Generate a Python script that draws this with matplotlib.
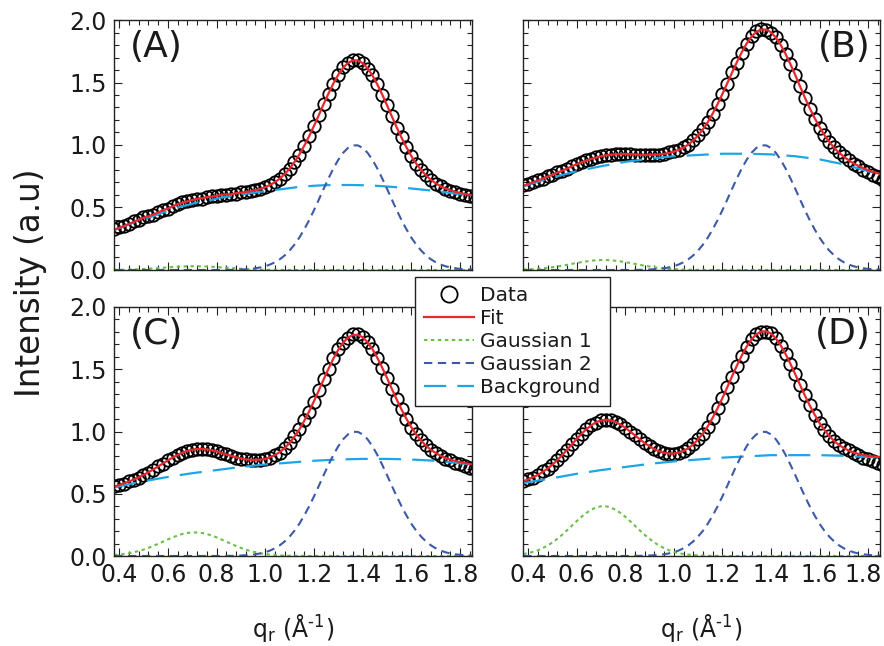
import numpy as np
import matplotlib
matplotlib.use("Agg")
import matplotlib.pyplot as plt
from matplotlib.ticker import MultipleLocator, FormatStrFormatter
from matplotlib.transforms import ScaledTranslation

plt.rcParams['font.family'] = ['DejaVu Sans']
plt.rcParams['mathtext.fontset'] = 'dejavusans'
plt.rcParams['mathtext.default'] = 'regular'
plt.rcParams['lines.scale_dashes'] = False

# q_r values (1/Angstrom), shared by every panel
q = [0.38, 0.40, 0.42, 0.44, 0.46, 0.48, 0.50, 0.52, 0.54, 0.56,
     0.58, 0.60, 0.62, 0.64, 0.66, 0.68, 0.70, 0.72, 0.74, 0.76,
     0.78, 0.80, 0.82, 0.84, 0.86, 0.88, 0.90, 0.92, 0.94, 0.96,
     0.98, 1.00, 1.02, 1.04, 1.06, 1.08, 1.10, 1.12, 1.14, 1.16,
     1.18, 1.20, 1.22, 1.24, 1.26, 1.28, 1.30, 1.32, 1.34, 1.36,
     1.38, 1.40, 1.42, 1.44, 1.46, 1.48, 1.50, 1.52, 1.54, 1.56,
     1.58, 1.60, 1.62, 1.64, 1.66, 1.68, 1.70, 1.72, 1.74, 1.76,
     1.78, 1.80, 1.82, 1.84, 1.86]

# Gaussian 2 looks the same (normalised to 1) in all four panels
gauss2 = [0, 0, 0, 0, 0, 0, 0, 0, 0, 0,
          0, 0, 0, 0, 0, 0, 0, 0, 0, 0,
          0.000, 0.000, 0.000, 0.001, 0.001, 0.002, 0.004, 0.006, 0.009, 0.014,
          0.021, 0.030, 0.044, 0.062, 0.086, 0.117, 0.156, 0.203, 0.259, 0.325,
          0.398, 0.478, 0.563, 0.650, 0.734, 0.813, 0.882, 0.938, 0.977, 0.997,
          0.997, 0.977, 0.938, 0.882, 0.813, 0.734, 0.650, 0.563, 0.478, 0.398,
          0.325, 0.259, 0.203, 0.156, 0.117, 0.086, 0.062, 0.044, 0.030, 0.021,
          0.014, 0.009, 0.006, 0.004, 0.002]

# (A)
data_a = [0.33, 0.34, 0.35, 0.37, 0.39, 0.40, 0.42, 0.43, 0.44, 0.46,
          0.48, 0.49, 0.51, 0.53, 0.54, 0.55, 0.56, 0.57, 0.57, 0.58,
          0.59, 0.59, 0.60, 0.60, 0.61, 0.61, 0.62, 0.62, 0.63, 0.64,
          0.65, 0.66, 0.68, 0.70, 0.73, 0.77, 0.81, 0.86, 0.92, 0.99,
          1.07, 1.15, 1.24, 1.33, 1.41, 1.49, 1.56, 1.62, 1.66, 1.68,
          1.68, 1.66, 1.61, 1.56, 1.49, 1.40, 1.32, 1.23, 1.14, 1.06,
          0.98, 0.91, 0.85, 0.80, 0.76, 0.72, 0.69, 0.67, 0.65, 0.63,
          0.62, 0.61, 0.60, 0.59, 0.58]
gauss1_a = [0.001, 0.002, 0.002, 0.003, 0.005, 0.006, 0.008, 0.010, 0.013, 0.015,
            0.018, 0.021, 0.024, 0.026, 0.028, 0.029, 0.030, 0.030, 0.029, 0.028,
            0.026, 0.024, 0.021, 0.018, 0.015, 0.013, 0.010, 0.008, 0.006, 0.005,
            0.003, 0.002, 0.002, 0.001, 0.001, 0, 0, 0, 0, 0,
            0, 0, 0, 0, 0, 0, 0, 0, 0, 0,
            0, 0, 0, 0, 0, 0, 0, 0, 0, 0,
            0, 0, 0, 0, 0, 0, 0, 0, 0, 0,
            0, 0, 0, 0, 0]
backg_a = [0.320, 0.335, 0.350, 0.365, 0.380, 0.395, 0.410, 0.420, 0.430, 0.445,
           0.460, 0.470, 0.485, 0.500, 0.510, 0.520, 0.530, 0.540, 0.545, 0.555,
           0.560, 0.570, 0.580, 0.585, 0.590, 0.600, 0.605, 0.610, 0.615, 0.620,
           0.625, 0.630, 0.635, 0.640, 0.645, 0.650, 0.655, 0.660, 0.665, 0.668,
           0.671, 0.674, 0.676, 0.678, 0.679, 0.680, 0.680, 0.680, 0.680, 0.680,
           0.679, 0.678, 0.677, 0.675, 0.673, 0.671, 0.668, 0.665, 0.662, 0.659,
           0.656, 0.652, 0.648, 0.644, 0.640, 0.636, 0.632, 0.627, 0.622, 0.617,
           0.612, 0.607, 0.602, 0.597, 0.592]

# (B)
data_b = [0.68, 0.69, 0.70, 0.72, 0.73, 0.75, 0.76, 0.78, 0.79, 0.81,
          0.83, 0.85, 0.86, 0.88, 0.89, 0.90, 0.91, 0.92, 0.92, 0.93,
          0.93, 0.93, 0.93, 0.92, 0.92, 0.92, 0.92, 0.92, 0.92, 0.93,
          0.94, 0.95, 0.96, 0.98, 1.00, 1.04, 1.08, 1.13, 1.18, 1.25,
          1.33, 1.41, 1.49, 1.58, 1.66, 1.74, 1.81, 1.87, 1.91, 1.93,
          1.92, 1.90, 1.86, 1.80, 1.73, 1.65, 1.56, 1.47, 1.38, 1.29,
          1.21, 1.14, 1.08, 1.02, 0.98, 0.94, 0.91, 0.88, 0.85, 0.83,
          0.80, 0.78, 0.76, 0.74, 0.72]
gauss1_b = [0.003, 0.005, 0.007, 0.009, 0.013, 0.017, 0.022, 0.028, 0.034, 0.041,
            0.049, 0.056, 0.063, 0.069, 0.074, 0.078, 0.080, 0.080, 0.078, 0.074,
            0.069, 0.063, 0.056, 0.049, 0.041, 0.034, 0.028, 0.022, 0.017, 0.013,
            0.009, 0.007, 0.005, 0.003, 0.002, 0.001, 0.001, 0.001, 0, 0,
            0, 0, 0, 0, 0, 0, 0, 0, 0, 0,
            0, 0, 0, 0, 0, 0, 0, 0, 0, 0,
            0, 0, 0, 0, 0, 0, 0, 0, 0, 0,
            0, 0, 0, 0, 0]
backg_b = [0.670, 0.682, 0.694, 0.706, 0.718, 0.729, 0.740, 0.750, 0.760, 0.770,
           0.780, 0.790, 0.798, 0.806, 0.814, 0.822, 0.830, 0.837, 0.844, 0.851,
           0.858, 0.865, 0.870, 0.875, 0.880, 0.885, 0.890, 0.894, 0.898, 0.902,
           0.906, 0.910, 0.912, 0.914, 0.916, 0.918, 0.920, 0.922, 0.924, 0.926,
           0.928, 0.930, 0.930, 0.930, 0.930, 0.930, 0.930, 0.929, 0.928, 0.927,
           0.926, 0.925, 0.922, 0.919, 0.916, 0.913, 0.910, 0.905, 0.900, 0.895,
           0.890, 0.885, 0.877, 0.869, 0.861, 0.853, 0.845, 0.834, 0.823, 0.812,
           0.801, 0.790, 0.780, 0.770, 0.760]

# (C)
data_c = [0.56, 0.57, 0.58, 0.60, 0.61, 0.63, 0.65, 0.67, 0.69, 0.72,
          0.74, 0.77, 0.79, 0.81, 0.83, 0.84, 0.85, 0.86, 0.86, 0.86,
          0.85, 0.84, 0.83, 0.82, 0.80, 0.79, 0.78, 0.78, 0.77, 0.77,
          0.77, 0.78, 0.79, 0.81, 0.83, 0.87, 0.91, 0.96, 1.02, 1.09,
          1.16, 1.24, 1.33, 1.42, 1.50, 1.59, 1.66, 1.71, 1.75, 1.78,
          1.78, 1.76, 1.72, 1.66, 1.59, 1.51, 1.43, 1.34, 1.26, 1.18,
          1.10, 1.03, 0.98, 0.93, 0.89, 0.85, 0.83, 0.80, 0.78, 0.77,
          0.75, 0.74, 0.72, 0.71, 0.70]
gauss1_c = [0.008, 0.011, 0.016, 0.022, 0.030, 0.040, 0.051, 0.065, 0.081, 0.098,
            0.115, 0.133, 0.150, 0.164, 0.177, 0.185, 0.189, 0.189, 0.185, 0.177,
            0.164, 0.150, 0.133, 0.115, 0.098, 0.081, 0.065, 0.051, 0.040, 0.030,
            0.022, 0.016, 0.011, 0.008, 0.005, 0.003, 0.002, 0.002, 0.001, 0.001,
            0, 0, 0, 0, 0, 0, 0, 0, 0, 0,
            0, 0, 0, 0, 0, 0, 0, 0, 0, 0,
            0, 0, 0, 0, 0, 0, 0, 0, 0, 0,
            0, 0, 0, 0, 0]
backg_c = [0.550, 0.559, 0.568, 0.576, 0.584, 0.592, 0.600, 0.607, 0.614, 0.621,
           0.628, 0.635, 0.641, 0.647, 0.653, 0.659, 0.665, 0.670, 0.675, 0.680,
           0.685, 0.690, 0.695, 0.700, 0.705, 0.710, 0.715, 0.719, 0.723, 0.727,
           0.731, 0.735, 0.738, 0.741, 0.744, 0.747, 0.750, 0.753, 0.756, 0.759,
           0.762, 0.765, 0.767, 0.769, 0.771, 0.773, 0.775, 0.776, 0.777, 0.778,
           0.779, 0.780, 0.780, 0.780, 0.780, 0.780, 0.780, 0.779, 0.778, 0.777,
           0.776, 0.775, 0.773, 0.771, 0.769, 0.767, 0.765, 0.761, 0.757, 0.753,
           0.749, 0.745, 0.740, 0.735, 0.730]

# (D)
data_d = [0.60, 0.62, 0.63, 0.65, 0.68, 0.70, 0.73, 0.77, 0.81, 0.85,
          0.90, 0.94, 0.98, 1.02, 1.05, 1.07, 1.09, 1.09, 1.09, 1.08,
          1.06, 1.03, 1.00, 0.97, 0.94, 0.91, 0.88, 0.86, 0.84, 0.83,
          0.82, 0.82, 0.83, 0.84, 0.87, 0.90, 0.94, 0.98, 1.04, 1.11,
          1.19, 1.27, 1.36, 1.44, 1.53, 1.61, 1.68, 1.74, 1.78, 1.80,
          1.80, 1.79, 1.75, 1.69, 1.62, 1.54, 1.46, 1.37, 1.29, 1.21,
          1.13, 1.07, 1.01, 0.96, 0.92, 0.89, 0.87, 0.85, 0.83, 0.81,
          0.79, 0.78, 0.76, 0.75, 0.73]
gauss1_d = [0.016, 0.023, 0.033, 0.046, 0.063, 0.084, 0.108, 0.138, 0.170, 0.206,
            0.243, 0.280, 0.315, 0.346, 0.372, 0.390, 0.399, 0.399, 0.390, 0.372,
            0.346, 0.315, 0.280, 0.243, 0.206, 0.170, 0.138, 0.108, 0.084, 0.063,
            0.046, 0.033, 0.023, 0.016, 0.011, 0.007, 0.005, 0.003, 0.002, 0.001,
            0.001, 0, 0, 0, 0, 0, 0, 0, 0, 0,
            0, 0, 0, 0, 0, 0, 0, 0, 0, 0,
            0, 0, 0, 0, 0, 0, 0, 0, 0, 0,
            0, 0, 0, 0, 0]
backg_d = [0.585, 0.592, 0.599, 0.605, 0.612, 0.618, 0.625, 0.632, 0.639, 0.646,
           0.653, 0.660, 0.666, 0.672, 0.678, 0.684, 0.690, 0.695, 0.700, 0.705,
           0.710, 0.715, 0.720, 0.725, 0.730, 0.735, 0.740, 0.744, 0.748, 0.752,
           0.756, 0.760, 0.763, 0.766, 0.769, 0.772, 0.775, 0.778, 0.781, 0.784,
           0.787, 0.790, 0.792, 0.794, 0.796, 0.798, 0.800, 0.802, 0.804, 0.806,
           0.808, 0.810, 0.810, 0.810, 0.810, 0.810, 0.810, 0.810, 0.810, 0.810,
           0.810, 0.810, 0.809, 0.808, 0.807, 0.806, 0.805, 0.803, 0.801, 0.799,
           0.797, 0.795, 0.794, 0.792, 0.790]

panel_labels = ["(A)", "(B)", "(C)", "(D)"]
legend_labels = ["Data", "Fit", "Gaussian 1", "Gaussian 2", "Background"]

c_fit = "#e8282e"
c_g1 = "#6cc04a"
c_g2 = "#3d5aa8"
c_bg = "#1ea5e6"
c_txt = "#1a1a1a"

W, H = 884, 646
fig = plt.figure(figsize=(W / 100, H / 100), dpi=100)

# axes boxes in pixels: left, top, right, bottom
boxes = [(114, 20, 472, 270), (523, 20, 880, 270),
         (114, 307, 472, 556), (523, 307, 880, 556)]
panels = [(data_a, gauss1_a, backg_a), (data_b, gauss1_b, backg_b),
          (data_c, gauss1_c, backg_c), (data_d, gauss1_d, backg_d)]

qq = np.array(q)
g2 = np.array(gauss2)
handles = None
axes = []
for i, (box, (dat, g1, bg)) in enumerate(zip(boxes, panels)):
    l, t, r, b = box
    ax = fig.add_axes([l / W, 1 - b / H, (r - l) / W, (b - t) / H])
    axes.append(ax)
    g1 = np.array(g1)
    bg = np.array(bg)
    fit = bg + g1 + g2

    h_dat, = ax.plot(qq, dat, 'o', ms=9, mfc='none', mec='black', mew=1.3)
    h_bg, = ax.plot(qq, bg, color=c_bg, lw=1.6, ls=(0, (16, 8)))
    h_fit, = ax.plot(qq, fit, color=c_fit, lw=1.6)
    h_g1, = ax.plot(qq, g1, color=c_g1, lw=1.5, ls=(0, (2.5, 2.5)))
    h_g2, = ax.plot(qq, g2, color=c_g2, lw=1.5, ls=(0, (6, 4)))
    if handles is None:
        handles = [h_dat, h_fit, h_g1, h_g2, h_bg]

    ax.set_xlim(0.379, 1.849)
    ax.set_ylim(0, 2.0)
    ax.xaxis.set_major_locator(MultipleLocator(0.2))
    ax.xaxis.set_minor_locator(MultipleLocator(0.04))
    ax.yaxis.set_major_locator(MultipleLocator(0.5))
    ax.yaxis.set_minor_locator(MultipleLocator(0.1))
    ax.tick_params(which='both', direction='in', top=True, right=True,
                   width=0.8, color='#222222', labelsize=17, labelcolor=c_txt)
    ax.tick_params(which='major', length=6, pad=5)
    ax.tick_params(which='minor', length=3.5)
    ax.xaxis.set_major_formatter(FormatStrFormatter('%.1f'))
    ax.yaxis.set_major_formatter(FormatStrFormatter('%.1f'))
    for sp in ax.spines.values():
        sp.set_linewidth(1.0)
        sp.set_color('#222222')

    if i % 2 == 1:
        ax.tick_params(labelleft=False)
        ax.text(0.975, 0.96, panel_labels[i], transform=ax.transAxes,
                ha='right', va='top', fontsize=26, color=c_txt)
    else:
        ax.text(0.045, 0.96, panel_labels[i], transform=ax.transAxes,
                ha='left', va='top', fontsize=26, color=c_txt)
    if i < 2:
        ax.tick_params(labelbottom=False)
    else:
        ax.set_xlabel('q$_{r}$ (Å$^{\u2010 1}$)', fontsize=17, labelpad=18,
                      color=c_txt)

fig.text(31 / W, 1 - 283 / H, "Intensity (a.u)", rotation=90,
         ha='center', va='center', fontsize=23.5, color=c_txt)

leg = fig.legend(handles, legend_labels, loc='upper left',
                 bbox_to_anchor=(415 / W, 1 - 277 / H), borderaxespad=0,
                 fontsize=14.5, numpoints=1, markerscale=1.3, handlelength=2.5,
                 handletextpad=0.3, labelspacing=0.2, borderpad=0.45,
                 fancybox=False, framealpha=1, edgecolor='#222222')
leg.get_frame().set_linewidth(1.0)
for t in leg.get_texts():
    t.set_color(c_txt)

# the last x label of panel D sits at the figure edge: nudge it inward a little
fig.canvas.draw()
for tk in axes[3].xaxis.get_major_ticks():
    if abs(tk.get_loc() - 1.8) < 1e-6:
        tk.label1.set_transform(tk.label1.get_transform() +
                                ScaledTranslation(-0.05, 0, fig.dpi_scale_trans))

fig.savefig("out.png", dpi=100)
